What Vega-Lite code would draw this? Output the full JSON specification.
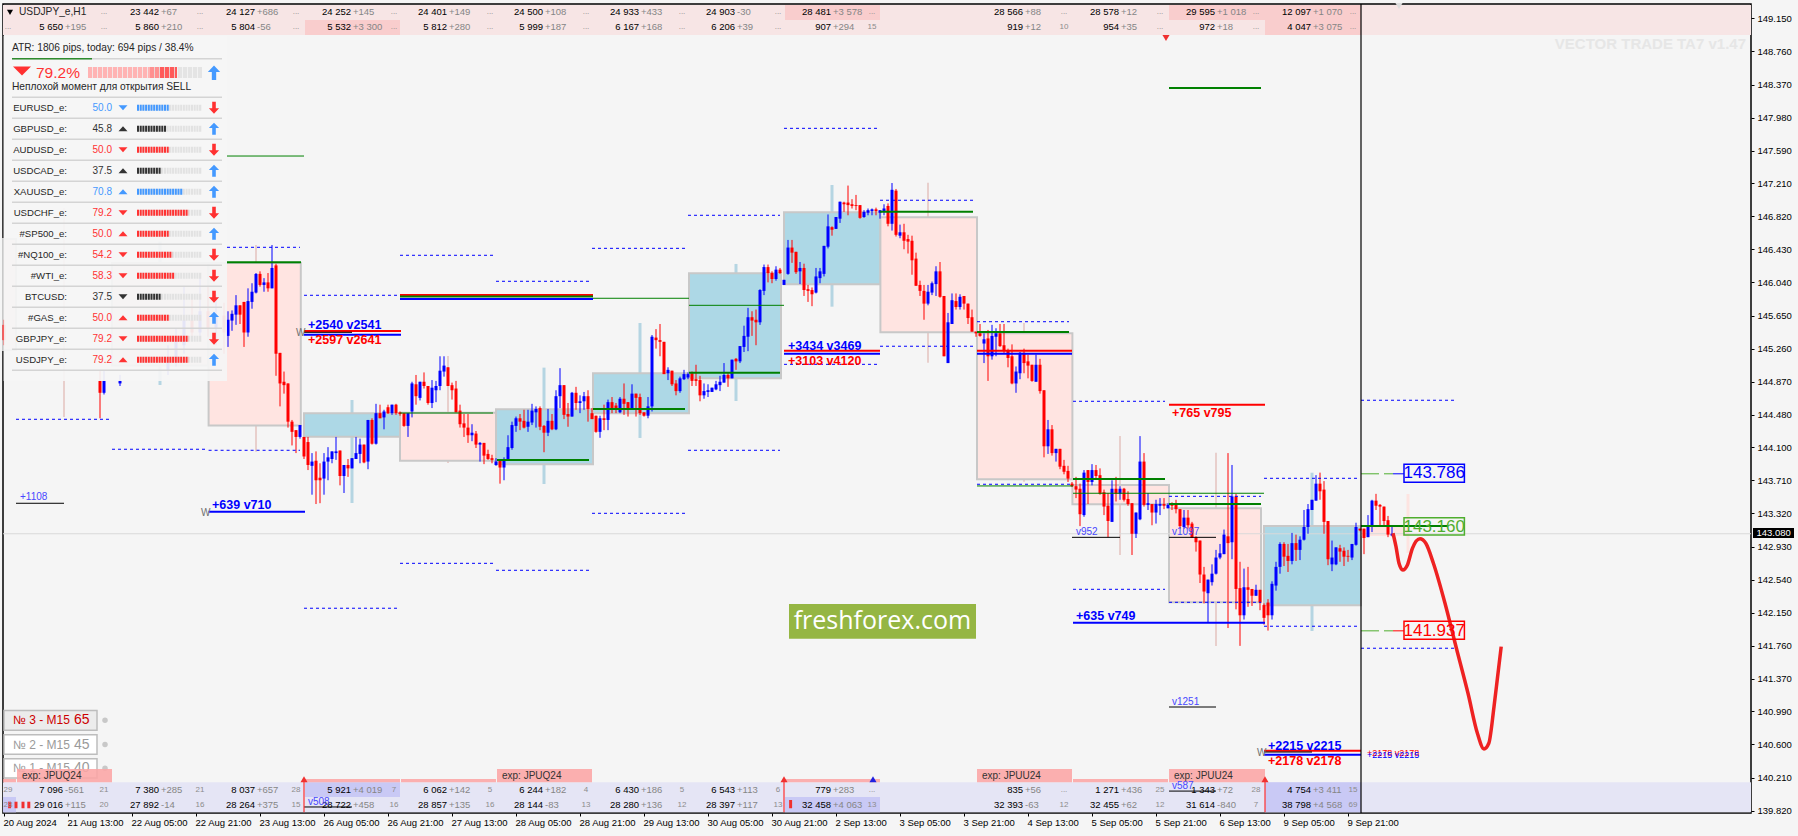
{
"$schema":"https://vega.github.io/schema/vega-lite/v6.json",
"width":1748,"height":809,
"autosize":{"type":"none"},
"padding":{"left":3,"top":4,"right":47,"bottom":23},
"background":"#f5f5f5",
"config":{"view":{"stroke":"#000000","strokeWidth":1.5,"fill":"#f5f5f5"},"font":"Liberation Sans","text":{"font":"Liberation Sans"},"axis":{"labelFont":"Liberation Sans"}},
"resolve":{"scale":{"color":"independent","stroke":"independent","size":"independent","strokeDash":"independent"},"legend":{"color":"independent"}},
"datasets":{
"buttons":[
{"bar":0,"end":23.25,"price":141.0,"price2":140.766,"kind":"active","label":"№ 3 - M15","value":"65","mid":140.883},
{"bar":0,"end":23.25,"price":140.714,"price2":140.483,"kind":"idle","label":"№ 2 - M15","value":"45","mid":140.598},
{"bar":0,"end":23.25,"price":140.432,"price2":140.204,"kind":"idle","label":"№ 1 - M15","value":"40","mid":140.318}],
"bands":[
{"bar":-0.25,"end":436.75,"price":149.306,"price2":148.953,"kind":"rose"},
{"bar":195.25,"end":219,"price":149.306,"price2":149.13,"kind":"rosehi"},
{"bar":291.25,"end":315.25,"price":149.306,"price2":149.13,"kind":"rosehi"},
{"bar":315.25,"end":339.25,"price":149.306,"price2":148.953,"kind":"rosehi"},
{"bar":75.25,"end":99,"price":149.13,"price2":148.953,"kind":"rosehi"},
{"bar":-0.25,"end":436.75,"price":140.154,"price2":139.8,"kind":"lav"},
{"bar":75.25,"end":99,"price":140.154,"price2":139.98,"kind":"lavhi"},
{"bar":195.25,"end":219,"price":139.98,"price2":139.8,"kind":"lavhi"},
{"bar":315.25,"end":339.25,"price":140.154,"price2":139.8,"kind":"lavhi"},
{"bar":-0.25,"end":3,"price":139.98,"price2":139.8,"kind":"lavhi"},
{"bar":3.25,"end":27,"price":140.31,"price2":140.154,"kind":"salmon"},
{"bar":123.25,"end":147,"price":140.31,"price2":140.154,"kind":"salmon"},
{"bar":243.25,"end":267,"price":140.31,"price2":140.154,"kind":"salmon"},
{"bar":291.25,"end":315.25,"price":140.31,"price2":140.154,"kind":"salmon"},
{"bar":75.25,"end":99,"price":140.193,"price2":140.154,"kind":"salmon"},
{"bar":99.25,"end":123,"price":140.193,"price2":140.154,"kind":"salmon"},
{"bar":195.25,"end":219,"price":140.193,"price2":140.154,"kind":"salmon"},
{"bar":267.25,"end":291,"price":140.193,"price2":140.154,"kind":"salmon"},
{"bar":-0.25,"end":3,"price":140.193,"price2":140.154,"kind":"salmon"}],
"wicks":[
{"bar":15,"price":146.916,"price2":144.455,"kind":"pink"},
{"bar":39,"price":146.519,"price2":144.832,"kind":"blue"},
{"bar":63,"price":146.48,"price2":144.046,"kind":"pink"},
{"bar":87,"price":144.655,"price2":143.442,"kind":"blue"},
{"bar":111,"price":145.173,"price2":143.913,"kind":"pink"},
{"bar":135,"price":145.036,"price2":143.666,"kind":"blue"},
{"bar":159,"price":145.562,"price2":144.208,"kind":"blue"},
{"bar":183,"price":146.257,"price2":144.643,"kind":"blue"},
{"bar":207,"price":147.187,"price2":145.754,"kind":"blue"},
{"bar":231,"price":147.214,"price2":145.094,"kind":"pink"},
{"bar":255,"price":145.562,"price2":143.693,"kind":"pink"},
{"bar":279,"price":144.231,"price2":142.83,"kind":"pink"},
{"bar":303,"price":144.035,"price2":141.759,"kind":"pink"},
{"bar":327,"price":143.799,"price2":141.935,"kind":"blue"},
{"bar":351,"price":143.548,"price2":142.854,"kind":"pale"}],
"boxes":[
{"bar":-0.25,"end":3,"price":146.551,"price2":145.244,"kind":"pink"},
{"bar":27,"end":51,"price":146.268,"price2":145.061,"kind":"pink"},
{"bar":51.15,"end":74.2,"price":146.268,"price2":144.355,"kind":"pink"},
{"bar":75,"end":99,"price":144.499,"price2":144.223,"kind":"blue"},
{"bar":99,"end":123,"price":144.506,"price2":143.941,"kind":"pink"},
{"bar":123,"end":147.25,"price":144.546,"price2":143.898,"kind":"blue"},
{"bar":147.25,"end":171.25,"price":144.97,"price2":144.499,"kind":"blue"},
{"bar":171.25,"end":194.25,"price":146.147,"price2":144.911,"kind":"blue"},
{"bar":195,"end":219.1,"price":146.865,"price2":146.017,"kind":"blue"},
{"bar":219.1,"end":243.25,"price":146.806,"price2":145.452,"kind":"pink"},
{"bar":243.25,"end":267.1,"price":145.441,"price2":143.722,"kind":"pink"},
{"bar":267.1,"end":291.25,"price":143.654,"price2":143.427,"kind":"pink"},
{"bar":291.25,"end":314.25,"price":143.38,"price2":142.273,"kind":"pink"},
{"bar":315,"end":339.25,"price":143.172,"price2":142.238,"kind":"blue"}],
"vlines":[
{"bar":339.25,"price":149.318,"price2":139.792,"kind":"black"},
{"bar":75,"price":140.193,"price2":139.8,"kind":"red"},
{"bar":195,"price":140.193,"price2":139.8,"kind":"red"},
{"bar":315.25,"price":140.193,"price2":139.8,"kind":"red"}],
"candles":[
{"bar":0,"open":145.54,"high":145.6,"low":145.3,"close":145.36},
{"bar":24,"open":144.88,"high":145.0,"low":144.44,"close":144.74},
{"bar":25,"open":144.74,"high":145.0,"low":144.72,"close":144.88},
{"bar":29,"open":144.85,"high":144.95,"low":144.82,"close":144.88},
{"bar":41,"open":145.0,"high":145.3,"low":144.95,"close":145.15},
{"bar":43,"open":145.1,"high":145.5,"low":145.05,"close":145.35},
{"bar":45,"open":145.3,"high":146.0,"low":145.2,"close":145.6},
{"bar":47,"open":145.6,"high":145.9,"low":145.35,"close":145.45},
{"bar":49,"open":145.45,"high":146.1,"low":145.4,"close":145.7},
{"bar":51,"open":145.7,"high":146.0,"low":145.4,"close":145.5},
{"bar":53,"open":145.5,"high":145.9,"low":145.3,"close":145.65},
{"bar":55,"open":145.65,"high":145.8,"low":145.2,"close":145.45},
{"bar":56,"open":145.41,"high":145.7,"low":145.28,"close":145.6},
{"bar":57,"open":145.59,"high":145.71,"low":145.47,"close":145.67},
{"bar":58,"open":145.66,"high":145.89,"low":145.54,"close":145.77},
{"bar":59,"open":145.77,"high":145.77,"low":145.55,"close":145.66},
{"bar":60,"open":145.81,"high":145.81,"low":145.28,"close":145.45},
{"bar":61,"open":145.45,"high":145.97,"low":145.4,"close":145.82},
{"bar":62,"open":145.81,"high":146.03,"low":145.73,"close":145.93},
{"bar":63,"open":145.92,"high":146.15,"low":145.91,"close":146.14},
{"bar":64,"open":146.14,"high":146.17,"low":145.99,"close":146.01},
{"bar":65,"open":146.01,"high":146.09,"low":145.93,"close":146.04},
{"bar":66,"open":146.04,"high":146.15,"low":145.93,"close":145.97},
{"bar":67,"open":145.97,"high":146.48,"low":145.97,"close":146.21},
{"bar":68,"open":146.24,"high":146.26,"low":144.94,"close":145.2},
{"bar":69,"open":145.21,"high":145.21,"low":144.58,"close":144.85},
{"bar":70,"open":144.87,"high":144.99,"low":144.73,"close":144.83},
{"bar":71,"open":144.85,"high":144.85,"low":144.33,"close":144.4},
{"bar":72,"open":144.4,"high":144.42,"low":144.12,"close":144.28},
{"bar":73,"open":144.3,"high":144.3,"low":144.03,"close":144.22},
{"bar":74,"open":144.22,"high":144.36,"low":144.2,"close":144.36},
{"bar":75,"open":144.22,"high":144.22,"low":143.96,"close":143.99},
{"bar":76,"open":144.16,"high":144.22,"low":143.83,"close":143.89},
{"bar":77,"open":143.88,"high":144.03,"low":143.54,"close":143.93},
{"bar":78,"open":143.94,"high":144.05,"low":143.43,"close":143.71},
{"bar":79,"open":143.74,"high":143.91,"low":143.44,"close":143.71},
{"bar":80,"open":143.73,"high":144.03,"low":143.54,"close":143.93},
{"bar":81,"open":143.93,"high":144.1,"low":143.71,"close":143.98},
{"bar":82,"open":143.96,"high":144.05,"low":143.91,"close":144.05},
{"bar":83,"open":144.03,"high":144.22,"low":143.95,"close":144.05},
{"bar":84,"open":144.06,"high":144.06,"low":143.65,"close":143.76},
{"bar":85,"open":143.76,"high":143.89,"low":143.56,"close":143.89},
{"bar":86,"open":143.89,"high":143.96,"low":143.75,"close":143.85},
{"bar":87,"open":143.85,"high":143.97,"low":143.85,"close":143.97},
{"bar":88,"open":143.96,"high":144.22,"low":143.96,"close":144.03},
{"bar":89,"open":144.02,"high":144.2,"low":143.91,"close":144.13},
{"bar":90,"open":144.13,"high":144.13,"low":143.91,"close":143.92},
{"bar":91,"open":143.93,"high":144.42,"low":143.84,"close":144.42},
{"bar":92,"open":144.42,"high":144.44,"low":144.13,"close":144.14},
{"bar":93,"open":144.14,"high":144.61,"low":144.13,"close":144.5},
{"bar":94,"open":144.5,"high":144.6,"low":144.44,"close":144.44},
{"bar":95,"open":144.45,"high":144.54,"low":144.31,"close":144.52},
{"bar":96,"open":144.57,"high":144.6,"low":144.49,"close":144.5},
{"bar":97,"open":144.5,"high":144.6,"low":144.48,"close":144.6},
{"bar":98,"open":144.6,"high":144.61,"low":144.48,"close":144.5},
{"bar":99,"open":144.51,"high":144.52,"low":144.47,"close":144.49},
{"bar":100,"open":144.5,"high":144.5,"low":144.34,"close":144.35},
{"bar":101,"open":144.35,"high":144.5,"low":144.22,"close":144.5},
{"bar":102,"open":144.52,"high":144.87,"low":144.45,"close":144.85},
{"bar":103,"open":144.84,"high":144.95,"low":144.6,"close":144.7},
{"bar":104,"open":144.68,"high":144.87,"low":144.65,"close":144.87},
{"bar":105,"open":144.87,"high":144.98,"low":144.79,"close":144.82},
{"bar":106,"open":144.82,"high":144.82,"low":144.6,"close":144.62},
{"bar":107,"open":144.62,"high":144.89,"low":144.56,"close":144.8},
{"bar":108,"open":144.77,"high":144.88,"low":144.63,"close":144.82},
{"bar":109,"open":144.82,"high":145.17,"low":144.77,"close":145.0},
{"bar":110,"open":144.99,"high":145.17,"low":144.93,"close":145.06},
{"bar":111,"open":145.04,"high":145.04,"low":144.82,"close":144.82},
{"bar":112,"open":144.83,"high":144.86,"low":144.66,"close":144.77},
{"bar":113,"open":144.79,"high":144.88,"low":144.51,"close":144.51},
{"bar":114,"open":144.53,"high":144.6,"low":144.33,"close":144.37},
{"bar":115,"open":144.38,"high":144.49,"low":144.22,"close":144.33},
{"bar":116,"open":144.33,"high":144.49,"low":144.15,"close":144.24},
{"bar":117,"open":144.24,"high":144.37,"low":144.17,"close":144.27},
{"bar":118,"open":144.26,"high":144.29,"low":144.09,"close":144.13},
{"bar":119,"open":144.13,"high":144.16,"low":143.93,"close":144.15},
{"bar":120,"open":144.15,"high":144.15,"low":143.9,"close":144.0},
{"bar":121,"open":144.02,"high":144.07,"low":143.95,"close":143.96},
{"bar":122,"open":143.97,"high":144.01,"low":143.91,"close":143.95},
{"bar":123,"open":143.89,"high":143.97,"low":143.88,"close":143.93},
{"bar":124,"open":143.95,"high":143.95,"low":143.67,"close":143.86},
{"bar":125,"open":143.86,"high":143.98,"low":143.71,"close":143.95},
{"bar":126,"open":143.96,"high":144.24,"low":143.96,"close":144.1},
{"bar":127,"open":144.09,"high":144.4,"low":144.07,"close":144.36},
{"bar":128,"open":144.35,"high":144.46,"low":144.28,"close":144.44},
{"bar":129,"open":144.44,"high":144.49,"low":144.3,"close":144.4},
{"bar":130,"open":144.41,"high":144.54,"low":144.32,"close":144.33},
{"bar":131,"open":144.34,"high":144.54,"low":144.28,"close":144.4},
{"bar":132,"open":144.39,"high":144.61,"low":144.36,"close":144.53},
{"bar":133,"open":144.51,"high":144.58,"low":144.33,"close":144.55},
{"bar":134,"open":144.56,"high":144.58,"low":144.3,"close":144.34},
{"bar":135,"open":144.35,"high":144.36,"low":144.04,"close":144.27},
{"bar":136,"open":144.27,"high":144.55,"low":144.23,"close":144.41},
{"bar":137,"open":144.41,"high":144.49,"low":144.3,"close":144.31},
{"bar":138,"open":144.31,"high":144.77,"low":144.3,"close":144.7},
{"bar":139,"open":144.7,"high":145.03,"low":144.56,"close":144.83},
{"bar":140,"open":144.83,"high":144.83,"low":144.43,"close":144.48},
{"bar":141,"open":144.49,"high":144.62,"low":144.34,"close":144.46},
{"bar":142,"open":144.46,"high":144.75,"low":144.46,"close":144.74},
{"bar":143,"open":144.74,"high":144.81,"low":144.54,"close":144.62},
{"bar":144,"open":144.62,"high":144.71,"low":144.5,"close":144.64},
{"bar":145,"open":144.64,"high":144.75,"low":144.54,"close":144.7},
{"bar":146,"open":144.7,"high":144.77,"low":144.4,"close":144.55},
{"bar":147,"open":144.5,"high":144.56,"low":144.43,"close":144.43},
{"bar":148,"open":144.47,"high":144.47,"low":144.27,"close":144.28},
{"bar":149,"open":144.28,"high":144.47,"low":144.21,"close":144.44},
{"bar":150,"open":144.44,"high":144.6,"low":144.3,"close":144.42},
{"bar":151,"open":144.42,"high":144.66,"low":144.3,"close":144.63},
{"bar":152,"open":144.63,"high":144.69,"low":144.5,"close":144.56},
{"bar":153,"open":144.59,"high":144.62,"low":144.5,"close":144.56},
{"bar":154,"open":144.51,"high":144.69,"low":144.5,"close":144.67},
{"bar":155,"open":144.67,"high":144.85,"low":144.48,"close":144.61},
{"bar":156,"open":144.63,"high":144.63,"low":144.46,"close":144.56},
{"bar":157,"open":144.56,"high":144.84,"low":144.54,"close":144.73},
{"bar":158,"open":144.73,"high":144.73,"low":144.46,"close":144.68},
{"bar":159,"open":144.69,"high":144.73,"low":144.48,"close":144.5},
{"bar":160,"open":144.51,"high":144.51,"low":144.46,"close":144.47},
{"bar":161,"open":144.47,"high":144.69,"low":144.44,"close":144.58},
{"bar":162,"open":144.58,"high":145.42,"low":144.52,"close":145.4},
{"bar":163,"open":145.39,"high":145.49,"low":145.26,"close":145.36},
{"bar":164,"open":145.36,"high":145.55,"low":145.17,"close":145.34},
{"bar":165,"open":145.34,"high":145.34,"low":144.96,"close":144.96},
{"bar":166,"open":144.97,"high":145.04,"low":144.89,"close":145.01},
{"bar":167,"open":145.0,"high":145.0,"low":144.82,"close":144.84},
{"bar":168,"open":144.85,"high":144.89,"low":144.71,"close":144.76},
{"bar":169,"open":144.76,"high":144.93,"low":144.74,"close":144.91},
{"bar":170,"open":144.9,"high":145.01,"low":144.89,"close":144.96},
{"bar":171,"open":144.92,"high":144.98,"low":144.9,"close":144.96},
{"bar":172,"open":144.97,"high":144.99,"low":144.82,"close":144.88},
{"bar":173,"open":144.9,"high":145.07,"low":144.82,"close":144.88},
{"bar":174,"open":144.89,"high":144.94,"low":144.64,"close":144.71},
{"bar":175,"open":144.71,"high":144.85,"low":144.67,"close":144.76},
{"bar":176,"open":144.75,"high":144.84,"low":144.69,"close":144.77},
{"bar":177,"open":144.75,"high":144.8,"low":144.75,"close":144.8},
{"bar":178,"open":144.78,"high":144.88,"low":144.77,"close":144.84},
{"bar":179,"open":144.83,"high":144.94,"low":144.76,"close":144.87},
{"bar":180,"open":144.86,"high":145.09,"low":144.86,"close":144.95},
{"bar":181,"open":144.95,"high":144.98,"low":144.81,"close":144.91},
{"bar":182,"open":144.91,"high":145.13,"low":144.91,"close":145.13},
{"bar":183,"open":145.14,"high":145.15,"low":145.01,"close":145.11},
{"bar":184,"open":145.11,"high":145.29,"low":145.09,"close":145.29},
{"bar":185,"open":145.28,"high":145.53,"low":145.22,"close":145.41},
{"bar":186,"open":145.4,"high":145.74,"low":145.23,"close":145.63},
{"bar":187,"open":145.63,"high":145.7,"low":145.41,"close":145.59},
{"bar":188,"open":145.6,"high":145.72,"low":145.3,"close":145.57},
{"bar":189,"open":145.57,"high":145.96,"low":145.54,"close":145.95},
{"bar":190,"open":145.94,"high":146.25,"low":145.89,"close":146.22},
{"bar":191,"open":146.22,"high":146.25,"low":146.04,"close":146.15},
{"bar":192,"open":146.15,"high":146.17,"low":146.03,"close":146.08},
{"bar":193,"open":146.08,"high":146.23,"low":146.06,"close":146.19},
{"bar":194,"open":146.19,"high":146.21,"low":146.14,"close":146.15},
{"bar":195,"open":146.01,"high":146.07,"low":146.01,"close":146.07},
{"bar":196,"open":146.14,"high":146.54,"low":146.13,"close":146.45},
{"bar":197,"open":146.45,"high":146.54,"low":146.27,"close":146.39},
{"bar":198,"open":146.4,"high":146.4,"low":146.14,"close":146.16},
{"bar":199,"open":146.17,"high":146.28,"low":146.02,"close":146.21},
{"bar":200,"open":146.21,"high":146.26,"low":145.88,"close":145.95},
{"bar":201,"open":145.96,"high":146.01,"low":145.81,"close":145.94},
{"bar":202,"open":145.95,"high":145.98,"low":145.76,"close":145.9},
{"bar":203,"open":145.92,"high":146.21,"low":145.91,"close":146.11},
{"bar":204,"open":146.09,"high":146.21,"low":146.03,"close":146.17},
{"bar":205,"open":146.14,"high":146.47,"low":146.11,"close":146.47},
{"bar":206,"open":146.46,"high":146.84,"low":146.44,"close":146.7},
{"bar":207,"open":146.69,"high":146.7,"low":146.59,"close":146.66},
{"bar":208,"open":146.67,"high":146.81,"low":146.67,"close":146.81},
{"bar":209,"open":146.79,"high":146.99,"low":146.74,"close":146.99},
{"bar":210,"open":146.98,"high":146.99,"low":146.87,"close":146.96},
{"bar":211,"open":146.98,"high":147.18,"low":146.83,"close":146.95},
{"bar":212,"open":146.96,"high":147.02,"low":146.91,"close":146.94},
{"bar":213,"open":146.95,"high":147.07,"low":146.89,"close":146.94},
{"bar":214,"open":146.95,"high":146.95,"low":146.79,"close":146.8},
{"bar":215,"open":146.81,"high":146.89,"low":146.8,"close":146.87},
{"bar":216,"open":146.86,"high":146.91,"low":146.83,"close":146.89},
{"bar":217,"open":146.88,"high":146.91,"low":146.83,"close":146.9},
{"bar":218,"open":146.9,"high":146.92,"low":146.83,"close":146.88},
{"bar":219,"open":146.86,"high":146.89,"low":146.79,"close":146.89},
{"bar":220,"open":146.87,"high":146.96,"low":146.83,"close":146.91},
{"bar":221,"open":146.94,"high":146.97,"low":146.7,"close":146.73},
{"bar":222,"open":146.73,"high":147.21,"low":146.65,"close":147.13},
{"bar":223,"open":147.12,"high":147.14,"low":146.58,"close":146.6},
{"bar":224,"open":146.59,"high":146.72,"low":146.56,"close":146.63},
{"bar":225,"open":146.63,"high":146.73,"low":146.43,"close":146.53},
{"bar":226,"open":146.55,"high":146.6,"low":146.38,"close":146.52},
{"bar":227,"open":146.53,"high":146.59,"low":146.13,"close":146.3},
{"bar":228,"open":146.32,"high":146.39,"low":146.0,"close":146.0},
{"bar":229,"open":146.01,"high":146.06,"low":145.88,"close":145.94},
{"bar":230,"open":145.94,"high":146.01,"low":145.6,"close":145.79},
{"bar":231,"open":145.79,"high":146.01,"low":145.77,"close":145.93},
{"bar":232,"open":145.92,"high":146.05,"low":145.89,"close":146.03},
{"bar":233,"open":146.02,"high":146.23,"low":145.88,"close":146.17},
{"bar":234,"open":146.17,"high":146.28,"low":145.86,"close":145.87},
{"bar":235,"open":145.88,"high":145.88,"low":145.17,"close":145.17},
{"bar":236,"open":145.09,"high":145.68,"low":145.09,"close":145.57},
{"bar":237,"open":145.55,"high":145.91,"low":145.55,"close":145.83},
{"bar":238,"open":145.82,"high":145.91,"low":145.72,"close":145.75},
{"bar":239,"open":145.75,"high":145.9,"low":145.72,"close":145.87},
{"bar":240,"open":145.88,"high":145.88,"low":145.72,"close":145.79},
{"bar":241,"open":145.79,"high":145.79,"low":145.55,"close":145.62},
{"bar":242,"open":145.63,"high":145.72,"low":145.46,"close":145.46},
{"bar":243,"open":145.46,"high":145.46,"low":145.4,"close":145.44},
{"bar":244,"open":145.44,"high":145.55,"low":145.4,"close":145.41},
{"bar":245,"open":145.32,"high":145.44,"low":145.09,"close":145.37},
{"bar":246,"open":145.38,"high":145.48,"low":144.88,"close":145.17},
{"bar":247,"open":145.17,"high":145.54,"low":145.13,"close":145.41},
{"bar":248,"open":145.4,"high":145.5,"low":145.17,"close":145.44},
{"bar":249,"open":145.44,"high":145.55,"low":145.28,"close":145.29},
{"bar":250,"open":145.3,"high":145.55,"low":145.21,"close":145.24},
{"bar":251,"open":145.24,"high":145.26,"low":145.04,"close":145.15},
{"bar":252,"open":145.17,"high":145.31,"low":144.84,"close":144.85},
{"bar":253,"open":144.85,"high":145.05,"low":144.74,"close":144.99},
{"bar":254,"open":144.97,"high":145.22,"low":144.9,"close":145.21},
{"bar":255,"open":145.21,"high":145.26,"low":144.97,"close":145.09},
{"bar":256,"open":145.11,"high":145.19,"low":144.91,"close":145.06},
{"bar":257,"open":145.07,"high":145.07,"low":144.87,"close":144.88},
{"bar":258,"open":144.87,"high":145.19,"low":144.87,"close":145.07},
{"bar":259,"open":145.07,"high":145.14,"low":144.73,"close":144.76},
{"bar":260,"open":144.77,"high":144.77,"low":143.98,"close":144.11},
{"bar":261,"open":144.11,"high":144.42,"low":144.02,"close":144.31},
{"bar":262,"open":144.31,"high":144.36,"low":144.0,"close":144.03},
{"bar":263,"open":144.03,"high":144.08,"low":143.93,"close":144.08},
{"bar":264,"open":144.08,"high":144.08,"low":143.84,"close":143.87},
{"bar":265,"open":143.88,"high":143.95,"low":143.78,"close":143.81},
{"bar":266,"open":143.82,"high":143.88,"low":143.69,"close":143.73},
{"bar":267,"open":143.67,"high":143.69,"low":143.63,"close":143.64},
{"bar":268,"open":143.64,"high":143.75,"low":143.5,"close":143.6},
{"bar":269,"open":143.61,"high":143.67,"low":143.17,"close":143.31},
{"bar":270,"open":143.3,"high":143.83,"low":143.28,"close":143.8},
{"bar":271,"open":143.83,"high":143.83,"low":143.43,"close":143.69},
{"bar":272,"open":143.69,"high":143.9,"low":143.65,"close":143.83},
{"bar":273,"open":143.83,"high":143.89,"low":143.73,"close":143.76},
{"bar":274,"open":143.77,"high":143.85,"low":143.54,"close":143.55},
{"bar":275,"open":143.57,"high":143.6,"low":143.3,"close":143.4},
{"bar":276,"open":143.41,"high":143.56,"low":143.04,"close":143.23},
{"bar":277,"open":143.22,"high":143.71,"low":143.22,"close":143.61},
{"bar":278,"open":143.61,"high":143.75,"low":143.46,"close":143.55},
{"bar":279,"open":143.55,"high":143.64,"low":143.48,"close":143.61},
{"bar":280,"open":143.61,"high":143.62,"low":143.46,"close":143.48},
{"bar":281,"open":143.49,"high":143.58,"low":143.41,"close":143.43},
{"bar":282,"open":143.44,"high":143.44,"low":142.83,"close":143.08},
{"bar":283,"open":143.08,"high":143.33,"low":143.03,"close":143.33},
{"bar":284,"open":143.25,"high":144.23,"low":143.24,"close":143.93},
{"bar":285,"open":143.93,"high":144.03,"low":143.4,"close":143.42},
{"bar":286,"open":143.42,"high":143.56,"low":143.36,"close":143.44},
{"bar":287,"open":143.43,"high":143.43,"low":143.18,"close":143.33},
{"bar":288,"open":143.33,"high":143.48,"low":143.2,"close":143.43},
{"bar":289,"open":143.41,"high":143.5,"low":143.3,"close":143.43},
{"bar":290,"open":143.43,"high":143.5,"low":143.37,"close":143.41},
{"bar":291,"open":143.38,"high":143.44,"low":143.38,"close":143.42},
{"bar":292,"open":143.42,"high":143.45,"low":143.36,"close":143.41},
{"bar":293,"open":143.42,"high":143.48,"low":143.32,"close":143.37},
{"bar":294,"open":143.37,"high":143.37,"low":143.14,"close":143.17},
{"bar":295,"open":143.16,"high":143.36,"low":143.14,"close":143.27},
{"bar":296,"open":143.27,"high":143.36,"low":143.14,"close":143.18},
{"bar":297,"open":143.2,"high":143.22,"low":143.03,"close":143.03},
{"bar":298,"open":143.04,"high":143.05,"low":142.87,"close":142.98},
{"bar":299,"open":143.0,"high":143.0,"low":142.5,"close":142.6},
{"bar":300,"open":142.6,"high":142.69,"low":142.26,"close":142.4},
{"bar":301,"open":142.38,"high":142.54,"low":142.03,"close":142.54},
{"bar":302,"open":142.51,"high":142.72,"low":142.47,"close":142.61},
{"bar":303,"open":142.61,"high":142.89,"low":142.6,"close":142.8},
{"bar":304,"open":142.8,"high":142.96,"low":142.78,"close":142.85},
{"bar":305,"open":142.84,"high":143.13,"low":142.84,"close":143.07},
{"bar":306,"open":143.05,"high":144.03,"low":141.97,"close":142.97},
{"bar":307,"open":142.98,"high":143.89,"low":142.78,"close":143.52},
{"bar":308,"open":143.52,"high":143.55,"low":142.19,"close":142.43},
{"bar":309,"open":142.44,"high":142.75,"low":141.76,"close":142.12},
{"bar":310,"open":142.12,"high":142.67,"low":142.07,"close":142.45},
{"bar":311,"open":142.45,"high":142.69,"low":142.22,"close":142.42},
{"bar":312,"open":142.43,"high":142.43,"low":142.23,"close":142.35},
{"bar":313,"open":142.35,"high":142.48,"low":142.35,"close":142.42},
{"bar":314,"open":142.42,"high":142.42,"low":142.18,"close":142.27},
{"bar":315,"open":142.24,"high":142.26,"low":142.01,"close":142.09},
{"bar":316,"open":142.27,"high":142.31,"low":141.94,"close":142.12},
{"bar":317,"open":142.12,"high":142.52,"low":142.07,"close":142.49},
{"bar":318,"open":142.47,"high":142.75,"low":142.41,"close":142.69},
{"bar":319,"open":142.69,"high":142.98,"low":142.61,"close":142.96},
{"bar":320,"open":142.96,"high":142.98,"low":142.7,"close":142.81},
{"bar":321,"open":142.82,"high":142.96,"low":142.63,"close":142.76},
{"bar":322,"open":142.76,"high":143.09,"low":142.72,"close":142.97},
{"bar":323,"open":142.97,"high":143.07,"low":142.76,"close":142.89},
{"bar":324,"open":142.89,"high":143.05,"low":142.77,"close":143.01},
{"bar":325,"open":143.01,"high":143.36,"low":143.0,"close":143.16},
{"bar":326,"open":143.16,"high":143.43,"low":143.08,"close":143.37},
{"bar":327,"open":143.36,"high":143.48,"low":143.36,"close":143.48},
{"bar":328,"open":143.47,"high":143.77,"low":143.47,"close":143.67},
{"bar":329,"open":143.67,"high":143.8,"low":143.48,"close":143.58},
{"bar":330,"open":143.6,"high":143.7,"low":143.08,"close":143.22},
{"bar":331,"open":143.23,"high":143.23,"low":142.71,"close":142.78},
{"bar":332,"open":142.72,"high":143.0,"low":142.64,"close":142.8},
{"bar":333,"open":142.72,"high":142.92,"low":142.71,"close":142.92},
{"bar":334,"open":142.91,"high":142.95,"low":142.75,"close":142.87},
{"bar":335,"open":142.88,"high":142.92,"low":142.7,"close":142.81},
{"bar":336,"open":142.82,"high":142.89,"low":142.75,"close":142.81},
{"bar":337,"open":142.8,"high":142.96,"low":142.77,"close":142.96},
{"bar":338,"open":142.95,"high":143.21,"low":142.94,"close":143.16},
{"bar":339,"open":143.14,"high":143.14,"low":143.11,"close":143.12},
{"bar":340,"open":143.14,"high":143.14,"low":142.84,"close":143.03},
{"bar":341,"open":143.04,"high":143.3,"low":143.04,"close":143.17},
{"bar":342,"open":143.16,"high":143.48,"low":143.1,"close":143.47},
{"bar":343,"open":143.47,"high":143.55,"low":143.36,"close":143.41},
{"bar":344,"open":143.42,"high":143.43,"low":143.18,"close":143.4},
{"bar":345,"open":143.4,"high":143.4,"low":143.18,"close":143.23},
{"bar":346,"open":143.24,"high":143.29,"low":143.04,"close":143.07},
{"bar":347,"open":143.06,"high":143.16,"low":143.05,"close":143.08}],
"levels":[
{"bar":55.75,"end":75,"price":147.528,"kind":"thin"},
{"bar":147.25,"end":171.25,"price":145.853,"kind":"thin"},
{"bar":171.25,"end":195,"price":145.77,"kind":"thin"},
{"bar":243.25,"end":267.25,"price":143.643,"kind":"thin"},
{"bar":267.25,"end":291.25,"price":143.557,"kind":"thin"},
{"bar":291.25,"end":315,"price":143.557,"kind":"thin"},
{"bar":99,"end":122.25,"price":144.502,"kind":"thin"},
{"bar":55.75,"end":74.25,"price":146.277,"kind":"thick"},
{"bar":123.25,"end":146.25,"price":143.949,"kind":"thick"},
{"bar":147.25,"end":170.25,"price":144.549,"kind":"thick"},
{"bar":171.25,"end":194,"price":144.977,"kind":"thick"},
{"bar":219,"end":242.25,"price":146.872,"kind":"thick"},
{"bar":243.25,"end":266.25,"price":145.456,"kind":"thick"},
{"bar":291.25,"end":314.25,"price":148.329,"kind":"thick"},
{"bar":267.25,"end":290.25,"price":143.725,"kind":"thick"},
{"bar":291.25,"end":314.25,"price":143.431,"kind":"thick"},
{"bar":339.25,"end":361,"price":143.172,"kind":"thick"},
{"bar":99,"end":147.25,"price":145.892,"kind":"redline"},
{"bar":99,"end":147.25,"price":145.874,"kind":"thick"},
{"bar":99,"end":147.25,"price":145.844,"kind":"blueline"},
{"bar":75,"end":99.25,"price":145.468,"kind":"redline"},
{"bar":75,"end":99.25,"price":145.424,"kind":"blueline"},
{"bar":75,"end":87,"price":145.452,"kind":"black"},
{"bar":195,"end":219,"price":145.236,"kind":"redline"},
{"bar":195,"end":219,"price":145.2,"kind":"blueline"},
{"bar":243.25,"end":267,"price":145.236,"kind":"redline"},
{"bar":243.25,"end":267,"price":145.2,"kind":"blueline"},
{"bar":51.15,"end":75.25,"price":143.34,"kind":"blueline"},
{"bar":267.25,"end":315.25,"price":142.033,"kind":"blueline"},
{"bar":291.25,"end":315.25,"price":144.6,"kind":"redline"},
{"bar":315,"end":339.25,"price":140.526,"kind":"redline"},
{"bar":315,"end":339.25,"price":140.479,"kind":"blueline"},
{"bar":315,"end":327,"price":140.51,"kind":"black"},
{"bar":3,"end":15,"price":143.439,"kind":"black"},
{"bar":267,"end":279,"price":143.038,"kind":"black"},
{"bar":291.25,"end":303,"price":143.038,"kind":"black"},
{"bar":291.25,"end":303,"price":141.04,"kind":"black"},
{"bar":75,"end":87,"price":139.863,"kind":"black"},
{"bar":291.25,"end":303,"price":140.05,"kind":"black"},
{"bar":55.75,"end":74,"price":146.453,"kind":"dash"},
{"bar":99,"end":122.25,"price":146.359,"kind":"dash"},
{"bar":123,"end":146.25,"price":146.053,"kind":"dash"},
{"bar":75,"end":98.5,"price":145.888,"kind":"dash"},
{"bar":147,"end":170.25,"price":146.441,"kind":"dash"},
{"bar":171,"end":194,"price":146.83,"kind":"dash"},
{"bar":195,"end":218.25,"price":147.854,"kind":"dash"},
{"bar":219,"end":242.25,"price":147.007,"kind":"dash"},
{"bar":243.25,"end":266.25,"price":145.577,"kind":"dash"},
{"bar":219,"end":242.25,"price":145.288,"kind":"dash"},
{"bar":195,"end":218.25,"price":145.075,"kind":"dash"},
{"bar":3,"end":26.25,"price":144.428,"kind":"dash"},
{"bar":27,"end":50.25,"price":144.075,"kind":"dash"},
{"bar":51.15,"end":74,"price":144.063,"kind":"dash"},
{"bar":147,"end":170.25,"price":143.321,"kind":"dash"},
{"bar":99,"end":122.25,"price":142.732,"kind":"dash"},
{"bar":123,"end":146.25,"price":142.65,"kind":"dash"},
{"bar":75,"end":98.25,"price":142.203,"kind":"dash"},
{"bar":171,"end":194,"price":144.063,"kind":"dash"},
{"bar":267.25,"end":290.25,"price":144.64,"kind":"dash"},
{"bar":243.25,"end":267,"price":143.663,"kind":"dash"},
{"bar":267.25,"end":290.25,"price":142.426,"kind":"dash"},
{"bar":291.25,"end":314.25,"price":142.273,"kind":"dash"},
{"bar":291.25,"end":314.25,"price":143.521,"kind":"dash"},
{"bar":315,"end":338.5,"price":143.733,"kind":"dash"},
{"bar":315,"end":338.5,"price":141.991,"kind":"dash"},
{"bar":339.25,"end":362.5,"price":144.652,"kind":"dash"},
{"bar":339.25,"end":362.5,"price":141.732,"kind":"dash"},
{"bar":339.25,"end":343.75,"price":143.786,"kind":"fgreen"},
{"bar":345,"end":347.25,"price":143.786,"kind":"fgreen"},
{"bar":347.25,"end":350,"price":143.786,"kind":"fblue"},
{"bar":339.25,"end":343.75,"price":141.937,"kind":"fgreen"},
{"bar":345,"end":347.25,"price":141.937,"kind":"fgreen"},
{"bar":347.25,"end":350,"price":141.937,"kind":"fred"}],
"forecast":[
{"bar":347.25,"price":143.086},{"bar":348,"price":142.928},{"bar":348.75,"price":142.733},{"bar":349.7,"price":142.654},{"bar":350.85,"price":142.713},{"bar":352.1,"price":142.909},{"bar":354,"price":143.022},{"bar":355.45,"price":142.968},{"bar":357.35,"price":142.733},{"bar":360.25,"price":142.262},{"bar":363.1,"price":141.732},{"bar":366,"price":141.202},{"bar":368.35,"price":140.731},{"bar":370,"price":140.546},{"bar":371.2,"price":140.613},{"bar":372.5,"price":141.044},{"bar":373.4,"price":141.397},{"bar":374.3,"price":141.751}],
"priceBoxes":[
{"bar":350,"end":365.1,"mid":357.55,"price":143.898,"price2":143.686,"at":143.79,"label":"143.786","tone":"blue"},
{"bar":350,"end":365.1,"mid":357.55,"price":143.27,"price2":143.066,"at":143.165,"label":"143.160","tone":"green"},
{"bar":350,"end":365.1,"mid":357.55,"price":142.05,"price2":141.838,"at":141.94,"label":"141.937","tone":"red"}],
"labels":[
{"bar":76,"price":145.538,"text":"+2540 v2541","tone":"blue","role":"bold"},
{"bar":76,"price":145.362,"text":"+2597 v2641","tone":"red","role":"bold"},
{"bar":196,"price":145.291,"text":"+3434 v3469","tone":"blue","role":"bold"},
{"bar":196,"price":145.114,"text":"+3103 v4120","tone":"red","role":"bold"},
{"bar":52,"price":143.419,"text":"+639 v710","tone":"blue","role":"bold"},
{"bar":268,"price":142.112,"text":"+635 v749","tone":"blue","role":"bold"},
{"bar":292,"price":144.502,"text":"+765 v795","tone":"red","role":"bold"},
{"bar":316,"price":140.581,"text":"+2215 v2215","tone":"blue","role":"bold"},
{"bar":316,"price":140.405,"text":"+2178 v2178","tone":"red","role":"bold"},
{"bar":4,"price":143.513,"text":"+1108","tone":"soft","role":"thin"},
{"bar":268,"price":143.105,"text":"v952","tone":"soft","role":"thin"},
{"bar":292,"price":143.105,"text":"v1097","tone":"soft","role":"thin"},
{"bar":292,"price":141.103,"text":"v1251","tone":"soft","role":"thin"},
{"bar":292,"price":140.114,"text":"v587","tone":"soft","role":"thin"},
{"bar":76,"price":139.925,"text":"v508","tone":"soft","role":"thin"},
{"bar":73,"price":145.444,"text":"W","tone":"gray","role":"thin"},
{"bar":49.25,"price":143.33,"text":"W","tone":"gray","role":"thin"},
{"bar":313.25,"price":140.5,"text":"W","tone":"gray","role":"thin"},
{"bar":340.75,"price":140.502,"text":"+2178 v2178","tone":"red","role":"small"},
{"bar":340.75,"price":140.475,"text":"+2215 v2215","tone":"blue","role":"small"}],
"tabs":[
{"bar":4.5,"price":140.232,"text":"exp: JPUQ24"},
{"bar":124.5,"price":140.232,"text":"exp: JPUQ24"},
{"bar":244.5,"price":140.232,"text":"exp: JPUU24"},
{"bar":292.5,"price":140.232,"text":"exp: JPUU24"}],
"cells":[
{"bar":38.75,"price":149.22,"amount":"23 442","change":"+67"},
{"bar":62.75,"price":149.22,"amount":"24 127","change":"+686"},
{"bar":86.75,"price":149.22,"amount":"24 252","change":"+145"},
{"bar":110.75,"price":149.22,"amount":"24 401","change":"+149"},
{"bar":134.75,"price":149.22,"amount":"24 500","change":"+108"},
{"bar":158.75,"price":149.22,"amount":"24 933","change":"+433"},
{"bar":182.75,"price":149.22,"amount":"24 903","change":"-30"},
{"bar":206.75,"price":149.22,"amount":"28 481","change":"+3 578"},
{"bar":254.75,"price":149.22,"amount":"28 566","change":"+88"},
{"bar":278.75,"price":149.22,"amount":"28 578","change":"+12"},
{"bar":302.75,"price":149.22,"amount":"29 595","change":"+1 018"},
{"bar":326.75,"price":149.22,"amount":"12 097","change":"+1 070"},
{"bar":14.75,"price":149.044,"amount":"5 650","change":"+195"},
{"bar":38.75,"price":149.044,"amount":"5 860","change":"+210"},
{"bar":62.75,"price":149.044,"amount":"5 804","change":"-56"},
{"bar":86.75,"price":149.044,"amount":"5 532","change":"+3 300"},
{"bar":110.75,"price":149.044,"amount":"5 812","change":"+280"},
{"bar":134.75,"price":149.044,"amount":"5 999","change":"+187"},
{"bar":158.75,"price":149.044,"amount":"6 167","change":"+168"},
{"bar":182.75,"price":149.044,"amount":"6 206","change":"+39"},
{"bar":206.75,"price":149.044,"amount":"907","change":"+294"},
{"bar":254.75,"price":149.044,"amount":"919","change":"+12"},
{"bar":278.75,"price":149.044,"amount":"954","change":"+35"},
{"bar":302.75,"price":149.044,"amount":"972","change":"+18"},
{"bar":326.75,"price":149.044,"amount":"4 047","change":"+3 075"},
{"bar":14.75,"price":140.067,"amount":"7 096","change":"-561"},
{"bar":38.75,"price":140.067,"amount":"7 380","change":"+285"},
{"bar":62.75,"price":140.067,"amount":"8 037","change":"+657"},
{"bar":86.75,"price":140.067,"amount":"5 921","change":"+4 019"},
{"bar":110.75,"price":140.067,"amount":"6 062","change":"+142"},
{"bar":134.75,"price":140.067,"amount":"6 244","change":"+182"},
{"bar":158.75,"price":140.067,"amount":"6 430","change":"+186"},
{"bar":182.75,"price":140.067,"amount":"6 543","change":"+113"},
{"bar":206.75,"price":140.067,"amount":"779","change":"+283"},
{"bar":254.75,"price":140.067,"amount":"835","change":"+56"},
{"bar":278.75,"price":140.067,"amount":"1 271","change":"+436"},
{"bar":302.75,"price":140.067,"amount":"1 343","change":"+72"},
{"bar":326.75,"price":140.067,"amount":"4 754","change":"+3 411"},
{"bar":14.75,"price":139.89,"amount":"29 016","change":"+115"},
{"bar":38.75,"price":139.89,"amount":"27 892","change":"-14"},
{"bar":62.75,"price":139.89,"amount":"28 264","change":"+375"},
{"bar":86.75,"price":139.89,"amount":"28 722","change":"+458"},
{"bar":110.75,"price":139.89,"amount":"28 857","change":"+135"},
{"bar":134.75,"price":139.89,"amount":"28 144","change":"-83"},
{"bar":158.75,"price":139.89,"amount":"28 280","change":"+136"},
{"bar":182.75,"price":139.89,"amount":"28 397","change":"+117"},
{"bar":206.75,"price":139.89,"amount":"32 458","change":"+4 063"},
{"bar":254.75,"price":139.89,"amount":"32 393","change":"-63"},
{"bar":278.75,"price":139.89,"amount":"32 455","change":"+62"},
{"bar":302.75,"price":139.89,"amount":"31 614","change":"-840"},
{"bar":326.75,"price":139.89,"amount":"38 798","change":"+4 568"}],
"counters":[
{"bar":25,"price":149.22,"text":"..."},{"bar":49,"price":149.22,"text":"..."},{"bar":73,"price":149.22,"text":"..."},{"bar":97.5,"price":149.22,"text":"..."},{"bar":121.5,"price":149.22,"text":"..."},{"bar":145.5,"price":149.22,"text":"..."},{"bar":169.5,"price":149.22,"text":"..."},{"bar":193.5,"price":149.22,"text":"..."},{"bar":217,"price":149.22,"text":"..."},{"bar":265,"price":149.22,"text":"..."},{"bar":289,"price":149.22,"text":"..."},{"bar":313,"price":149.22,"text":"..."},{"bar":337.25,"price":149.22,"text":"..."},
{"bar":1,"price":149.044,"text":"..."},{"bar":25,"price":149.044,"text":"..."},{"bar":49,"price":149.044,"text":"..."},{"bar":73,"price":149.044,"text":"..."},{"bar":97.5,"price":149.044,"text":"..."},{"bar":121.5,"price":149.044,"text":"..."},{"bar":145.5,"price":149.044,"text":"..."},{"bar":169.5,"price":149.044,"text":"..."},{"bar":193.5,"price":149.044,"text":"..."},{"bar":217,"price":149.044,"text":"15"},{"bar":265,"price":149.044,"text":"10"},{"bar":289,"price":149.044,"text":"..."},{"bar":313,"price":149.044,"text":"..."},{"bar":337.25,"price":149.044,"text":"..."},
{"bar":1,"price":140.067,"text":"29"},{"bar":25,"price":140.067,"text":"21"},{"bar":49,"price":140.067,"text":"21"},{"bar":73,"price":140.067,"text":"28"},{"bar":97.5,"price":140.067,"text":"7"},{"bar":121.5,"price":140.067,"text":"5"},{"bar":145.5,"price":140.067,"text":"4"},{"bar":169.5,"price":140.067,"text":"5"},{"bar":193.5,"price":140.067,"text":"6"},{"bar":217,"price":140.067,"text":"..."},{"bar":265,"price":140.067,"text":"..."},{"bar":289,"price":140.067,"text":"25"},{"bar":313,"price":140.067,"text":"28"},{"bar":337.25,"price":140.067,"text":"15"},
{"bar":1,"price":139.89,"text":"28"},{"bar":25,"price":139.89,"text":"20"},{"bar":49,"price":139.89,"text":"16"},{"bar":73,"price":139.89,"text":"15"},{"bar":97.5,"price":139.89,"text":"16"},{"bar":121.5,"price":139.89,"text":"16"},{"bar":145.5,"price":139.89,"text":"13"},{"bar":169.5,"price":139.89,"text":"12"},{"bar":193.5,"price":139.89,"text":"13"},{"bar":217,"price":139.89,"text":"13"},{"bar":265,"price":139.89,"text":"12"},{"bar":289,"price":139.89,"text":"12"},{"bar":313,"price":139.89,"text":"7"},{"bar":337.25,"price":139.89,"text":"69"}],
"redTicks":[
{"bar":1.4,"price":139.925,"price2":139.848},{"bar":3,"price":139.925,"price2":139.848},{"bar":4.75,"price":139.925,"price2":139.848},{"bar":6.2,"price":139.925,"price2":139.848},{"bar":196.65,"price":139.945,"price2":139.848}],
"panelRules":[
{"bar":2,"end":54.5,"price":148.674,"kind":"sep"},
{"bar":2,"end":22,"price":148.674,"kind":"atr"},
{"bar":2,"end":54.5,"price":148.219,"kind":"sep"},{"bar":2,"end":54.5,"price":147.972,"kind":"sep"},{"bar":2,"end":54.5,"price":147.725,"kind":"sep"},{"bar":2,"end":54.5,"price":147.478,"kind":"sep"},{"bar":2,"end":54.5,"price":147.23,"kind":"sep"},{"bar":2,"end":54.5,"price":146.983,"kind":"sep"},{"bar":2,"end":54.5,"price":146.736,"kind":"sep"},{"bar":2,"end":54.5,"price":146.489,"kind":"sep"},{"bar":2,"end":54.5,"price":146.241,"kind":"sep"},{"bar":2,"end":54.5,"price":145.994,"kind":"sep"},{"bar":2,"end":54.5,"price":145.747,"kind":"sep"},{"bar":2,"end":54.5,"price":145.5,"kind":"sep"},{"bar":2,"end":54.5,"price":145.252,"kind":"sep"},{"bar":2,"end":54.5,"price":145.005,"kind":"sep"}],
"gauge":[
{"bar":21,"end":49.5,"price":148.511,"kind":"rest"},
{"bar":21,"end":36.5,"price":148.511,"kind":"pale"},
{"bar":36.5,"end":39,"price":148.511,"kind":"mid"},
{"bar":39,"end":43.25,"price":148.511,"kind":"strong"}],
"watch":[
{"symbol":"EURUSD_e:","score":"50.0","price":148.097,"meter":41.375,"tone":"sky","trend":"down","signal":"down","nameBar":15.75,"scoreBar":27,"markBar":29.75,"meterFrom":33.25,"meterTo":49.5,"arrowBar":52.5},
{"symbol":"GBPUSD_e:","score":"45.8","price":147.85,"meter":40.69,"tone":"dim","trend":"up","signal":"up","nameBar":15.75,"scoreBar":27,"markBar":29.75,"meterFrom":33.25,"meterTo":49.5,"arrowBar":52.5},
{"symbol":"AUDUSD_e:","score":"50.0","price":147.602,"meter":41.375,"tone":"soft","trend":"down","signal":"down","nameBar":15.75,"scoreBar":27,"markBar":29.75,"meterFrom":33.25,"meterTo":49.5,"arrowBar":52.5},
{"symbol":"USDCAD_e:","score":"37.5","price":147.355,"meter":39.34,"tone":"dim","trend":"up","signal":"up","nameBar":15.75,"scoreBar":27,"markBar":29.75,"meterFrom":33.25,"meterTo":49.5,"arrowBar":52.5},
{"symbol":"XAUUSD_e:","score":"70.8","price":147.108,"meter":44.76,"tone":"sky","trend":"up","signal":"up","nameBar":15.75,"scoreBar":27,"markBar":29.75,"meterFrom":33.25,"meterTo":49.5,"arrowBar":52.5},
{"symbol":"USDCHF_e:","score":"79.2","price":146.861,"meter":46.12,"tone":"soft","trend":"down","signal":"down","nameBar":15.75,"scoreBar":27,"markBar":29.75,"meterFrom":33.25,"meterTo":49.5,"arrowBar":52.5},
{"symbol":"#SP500_e:","score":"50.0","price":146.613,"meter":41.375,"tone":"soft","trend":"up","signal":"up","nameBar":15.75,"scoreBar":27,"markBar":29.75,"meterFrom":33.25,"meterTo":49.5,"arrowBar":52.5},
{"symbol":"#NQ100_e:","score":"54.2","price":146.366,"meter":42.06,"tone":"soft","trend":"down","signal":"down","nameBar":15.75,"scoreBar":27,"markBar":29.75,"meterFrom":33.25,"meterTo":49.5,"arrowBar":52.5},
{"symbol":"#WTI_e:","score":"58.3","price":146.119,"meter":42.72,"tone":"soft","trend":"down","signal":"down","nameBar":15.75,"scoreBar":27,"markBar":29.75,"meterFrom":33.25,"meterTo":49.5,"arrowBar":52.5},
{"symbol":"BTCUSD:","score":"37.5","price":145.872,"meter":39.34,"tone":"dim","trend":"down","signal":"down","nameBar":15.75,"scoreBar":27,"markBar":29.75,"meterFrom":33.25,"meterTo":49.5,"arrowBar":52.5},
{"symbol":"#GAS_e:","score":"50.0","price":145.624,"meter":41.375,"tone":"soft","trend":"up","signal":"up","nameBar":15.75,"scoreBar":27,"markBar":29.75,"meterFrom":33.25,"meterTo":49.5,"arrowBar":52.5},
{"symbol":"GBPJPY_e:","score":"79.2","price":145.377,"meter":46.12,"tone":"soft","trend":"down","signal":"down","nameBar":15.75,"scoreBar":27,"markBar":29.75,"meterFrom":33.25,"meterTo":49.5,"arrowBar":52.5},
{"symbol":"USDJPY_e:","score":"79.2","price":145.13,"meter":46.12,"tone":"soft","trend":"up","signal":"up","nameBar":15.75,"scoreBar":27,"markBar":29.75,"meterFrom":33.25,"meterTo":49.5,"arrowBar":52.5}],
"panelText":[
{"bar":2,"price":148.803,"text":"ATR: 1806 pips, today: 694 pips / 38.4%"},
{"bar":2,"price":148.344,"text":"Неплохой момент для открытия SELL"},
{"bar":3.75,"price":149.22,"text":"USDJPY_e,H1"}]
},
"encoding":{
"x":{"field":"bar","type":"quantitative","title":null,"scale":{"domain":[-0.25,436.75],"nice":false,"zero":false},
"axis":{"values":[0,16,32,48,64,80,96,112,128,144,160,176,192,208,224,240,256,272,288,304,320,336],"grid":false,"domain":false,"tickColor":"#000000","tickSize":3,"labelColor":"#000000","labelFontSize":9.5,"labelAlign":"left","labelBaseline":"middle","labelPadding":6,"labelOffset":-1,"labelFlush":false,"labelBound":false,"labelOverlap":false,
"labelExpr":"['20 Aug 2024','21 Aug 13:00','22 Aug 05:00','22 Aug 21:00','23 Aug 13:00','26 Aug 05:00','26 Aug 21:00','27 Aug 13:00','28 Aug 05:00','28 Aug 21:00','29 Aug 13:00','30 Aug 05:00','30 Aug 21:00','2 Sep 13:00','3 Sep 05:00','3 Sep 21:00','4 Sep 13:00','5 Sep 05:00','5 Sep 21:00','6 Sep 13:00','9 Sep 05:00','9 Sep 21:00'][datum.value/16]"}},
"y":{"field":"price","type":"quantitative","title":null,"scale":{"domain":[139.792,149.318],"nice":false,"zero":false},
"axis":{"orient":"right","values":[149.15,148.76,148.37,147.98,147.59,147.21,146.82,146.43,146.04,145.65,145.26,144.87,144.48,144.1,143.71,143.32,142.93,142.54,142.15,141.76,141.37,140.99,140.6,140.21,139.82],"format":".3f","grid":false,"domain":false,"tickColor":"#000000","tickSize":3,"labelColor":"#000000","labelFontSize":9.5,"labelPadding":3,"labelOverlap":false,"labelFlush":false,"labelBound":false}}
},
"layer":[
{"data":{"name":"buttons"},"mark":{"type":"rect","stroke":"#bdbdbd","strokeWidth":1.5},"encoding":{"x2":{"field":"end"},"y2":{"field":"price2"},"color":{"field":"kind","type":"nominal","legend":null,"scale":{"domain":["active","idle"],"range":["#ececec","#ffffff"]}}}},
{"data":{"name":"buttons"},"mark":{"type":"text","align":"left","baseline":"middle","dx":9,"fontSize":12},"encoding":{"y":{"field":"mid","type":"quantitative","title":null,"scale":{"domain":[139.792,149.318],"nice":false,"zero":false}},"text":{"field":"label"},"color":{"field":"kind","type":"nominal","legend":null,"scale":{"domain":["active","idle"],"range":["#cc0000","#9a9a9a"]}}}},
{"data":{"name":"buttons"},"mark":{"type":"text","align":"left","baseline":"middle","dx":70,"fontSize":14},"encoding":{"y":{"field":"mid","type":"quantitative","title":null,"scale":{"domain":[139.792,149.318],"nice":false,"zero":false}},"text":{"field":"value"},"color":{"field":"kind","type":"nominal","legend":null,"scale":{"domain":["active","idle"],"range":["#cc0000","#9a9a9a"]}}}},
{"data":{"name":"buttons"},"mark":{"type":"point","filled":true,"size":30,"opacity":1,"color":"#c8c8c8"},"encoding":{"x":{"field":"end","type":"quantitative","title":null,"scale":{"domain":[-0.25,436.75],"nice":false,"zero":false}},"xOffset":{"value":8},"y":{"field":"mid","type":"quantitative","title":null,"scale":{"domain":[139.792,149.318],"nice":false,"zero":false}}}},
{"data":{"name":"bands"},"mark":{"type":"rect"},"encoding":{"x2":{"field":"end"},"y2":{"field":"price2"},"color":{"field":"kind","type":"nominal","legend":null,"scale":{"domain":["rose","rosehi","lav","lavhi","salmon"],"range":["#f7e5e5","#f9cdcd","#e5e5f5","#c9c9f5","rgba(252,165,165,0.88)"]}}}},
{"data":{"name":"wicks"},"mark":{"type":"rule"},"encoding":{"y2":{"field":"price2"},"size":{"field":"kind","type":"nominal","legend":null,"scale":{"type":"ordinal","domain":["pink","blue","pale"],"range":[2,3,3]}},"color":{"field":"kind","type":"nominal","legend":null,"scale":{"domain":["pink","blue","pale"],"range":["#e8cfcc","#b5d5e2","#fde4e1"]}}}},
{"data":{"name":"boxes"},"mark":{"type":"rect","stroke":"#c8c8c8","strokeWidth":2},"encoding":{"x2":{"field":"end"},"y2":{"field":"price2"},"color":{"field":"kind","type":"nominal","legend":null,"scale":{"domain":["pink","blue"],"range":["#ffe4e1","#add8e6"]}}}},
{"data":{"values":[{"bar":339.25,"end":351,"price":143.16,"price2":143.054}]},"mark":{"type":"rect","color":"#fde4e1"},"encoding":{"x2":{"field":"end"},"y2":{"field":"price2"}}},
{"data":{"values":[{"bar":-0.25,"end":436.75,"price":143.08}]},"mark":{"type":"rule","color":"#d9d9d9","strokeWidth":1},"encoding":{"x2":{"field":"end"}}},
{"data":{"name":"candles"},"mark":{"type":"rule","strokeWidth":1},"encoding":{"y":{"field":"high","type":"quantitative","title":null,"scale":{"domain":[139.792,149.318],"nice":false,"zero":false}},"y2":{"field":"low"},"color":{"condition":{"test":"datum.close>=datum.open","value":"#0000ff"},"value":"#ff0000"}}},
{"data":{"name":"candles"},"mark":{"type":"rule","strokeWidth":3},"encoding":{"y":{"field":"open","type":"quantitative","title":null,"scale":{"domain":[139.792,149.318],"nice":false,"zero":false}},"y2":{"field":"close"},"color":{"condition":{"test":"datum.close>=datum.open","value":"#0000ff"},"value":"#ff0000"}}},
{"data":{"name":"levels"},"mark":{"type":"rule"},"encoding":{"x2":{"field":"end"},
"color":{"field":"kind","type":"nominal","legend":null,"scale":{"domain":["thin","thick","dash","redline","blueline","black","fgreen","fblue","fred"],"range":["#008000","#008000","#0000ff","#ff0000","#0000ff","#000000","#4fae2f","#0000ff","#ff0000"]}},
"size":{"field":"kind","type":"nominal","legend":null,"scale":{"type":"ordinal","domain":["thin","thick","dash","redline","blueline","black","fgreen","fblue","fred"],"range":[1,2,1,2,2,1,1,1,1]}},
"strokeDash":{"field":"kind","type":"nominal","legend":null,"scale":{"domain":["thin","thick","dash","redline","blueline","black","fgreen","fblue","fred"],"range":[[1,0],[1,0],[3,3],[1,0],[1,0],[1,0],[1,0],[1,0],[1,0]]}}}},
{"data":{"name":"vlines"},"mark":{"type":"rule","strokeWidth":1.2},"encoding":{"y2":{"field":"price2"},"color":{"field":"kind","type":"nominal","legend":null,"scale":{"domain":["black","red"],"range":["#000000","#ff3030"]}}}},
{"data":{"name":"redTicks"},"mark":{"type":"rule","strokeWidth":3,"color":"#f03030"},"encoding":{"y2":{"field":"price2"}}},
{"data":{"values":[{"bar":290.5,"price":148.917,"tone":"red"},{"bar":348.75,"price":149.294,"tone":"pale"}]},"mark":{"type":"point","shape":"triangle-down","filled":true,"size":50,"opacity":1},"encoding":{"color":{"field":"tone","type":"nominal","legend":null,"scale":{"domain":["red","pale"],"range":["#f03030","#dddddd"]}}}},
{"data":{"values":[{"bar":75,"price":140.19,"tone":"red"},{"bar":195,"price":140.19,"tone":"red"},{"bar":217.25,"price":140.19,"tone":"blue"},{"bar":315.25,"price":140.19,"tone":"red"}]},"mark":{"type":"point","shape":"triangle-up","filled":true,"size":50,"opacity":1},"encoding":{"color":{"field":"tone","type":"nominal","legend":null,"scale":{"domain":["red","blue"],"range":["#f03030","#2020e0"]}}}},
{"data":{"name":"tabs"},"mark":{"type":"text","align":"left","baseline":"middle","fontSize":10,"color":"#333333"},"encoding":{"text":{"field":"text"}}},
{"data":{"name":"cells"},"mark":{"type":"text","align":"right","baseline":"middle","fontSize":9.5,"color":"#000000"},"encoding":{"text":{"field":"amount"}}},
{"data":{"name":"cells"},"mark":{"type":"text","align":"left","baseline":"middle","dx":2,"fontSize":9.5,"color":"#858585"},"encoding":{"text":{"field":"change"}}},
{"data":{"name":"counters"},"mark":{"type":"text","align":"center","baseline":"middle","fontSize":8,"color":"#8c8c8c"},"encoding":{"text":{"field":"text"}}},
{"data":{"name":"labels"},"transform":[{"filter":{"field":"role","equal":"bold"}}],"mark":{"type":"text","align":"left","baseline":"middle","fontSize":12.5,"fontWeight":"bold"},"encoding":{"text":{"field":"text"},"color":{"field":"tone","type":"nominal","legend":null,"scale":{"domain":["blue","red","soft","gray"],"range":["#0000ff","#ff0000","#4848ff","#707070"]}}}},
{"data":{"name":"labels"},"transform":[{"filter":{"field":"role","equal":"thin"}}],"mark":{"type":"text","align":"left","baseline":"middle","fontSize":10},"encoding":{"text":{"field":"text"},"color":{"field":"tone","type":"nominal","legend":null,"scale":{"domain":["blue","red","soft","gray"],"range":["#0000ff","#ff0000","#4848ff","#707070"]}}}},
{"data":{"name":"labels"},"transform":[{"filter":{"field":"role","equal":"small"}}],"mark":{"type":"text","align":"left","baseline":"middle","fontSize":9},"encoding":{"text":{"field":"text"},"color":{"field":"tone","type":"nominal","legend":null,"scale":{"domain":["blue","red","soft","gray"],"range":["#0000ff","#ff0000","#4848ff","#707070"]}}}},
{"data":{"values":[{"bar":196.25,"end":243,"price":142.253,"price2":141.845}]},"mark":{"type":"rect","color":"#95b643"},"encoding":{"x2":{"field":"end"},"y2":{"field":"price2"}}},
{"data":{"values":[{"bar":219.6,"price":142.05,"text":"freshforex.com"}]},"mark":{"type":"text","font":"Open Sans","fontSize":25,"align":"center","baseline":"middle","color":"#ffffff"},"encoding":{"text":{"field":"text"}}},
{"data":{"values":[{"bar":435.5,"price":148.843,"text":"VECTOR TRADE TA7 v1.47"}]},"mark":{"type":"text","fontSize":15,"fontWeight":"bold","align":"right","baseline":"middle","color":"#e6e6e6"},"encoding":{"text":{"field":"text"}}},
{"data":{"name":"forecast"},"mark":{"type":"line","color":"#ee2222","strokeWidth":3.5,"interpolate":"monotone"},"encoding":{"order":{"field":"bar"}}},
{"data":{"name":"priceBoxes"},"mark":{"type":"rect","fillOpacity":0,"strokeWidth":1.5},"encoding":{"x2":{"field":"end"},"y2":{"field":"price2"},"stroke":{"field":"tone","type":"nominal","legend":null,"scale":{"domain":["blue","green","red"],"range":["#0000ff","#4fae2f","#ff0000"]}}}},
{"data":{"name":"priceBoxes"},"mark":{"type":"text","fontSize":17,"align":"center","baseline":"middle"},"encoding":{"x":{"field":"mid","type":"quantitative","title":null,"scale":{"domain":[-0.25,436.75],"nice":false,"zero":false}},"y":{"field":"at","type":"quantitative","title":null,"scale":{"domain":[139.792,149.318],"nice":false,"zero":false}},"text":{"field":"label"},"color":{"field":"tone","type":"nominal","legend":null,"scale":{"domain":["blue","green","red"],"range":["#0000ff","#4fae2f","#ff0000"]}}}},
{"data":{"values":[{"bar":437.25,"end":447.5,"price":143.148,"price2":143.03}]},"mark":{"type":"rect","color":"#000000"},"encoding":{"x2":{"field":"end"},"y2":{"field":"price2"}}},
{"data":{"values":[{"bar":442.4,"price":143.086,"text":"143.080"}]},"mark":{"type":"text","fontSize":9.5,"align":"center","baseline":"middle","color":"#ffffff"},"encoding":{"text":{"field":"text"}}},
{"data":{"values":[{"bar":-0.1,"end":55.75,"price":148.941,"price2":144.879}]},"mark":{"type":"rect","color":"#f5f5f5","opacity":0.93},"encoding":{"x2":{"field":"end"},"y2":{"field":"price2"}}},
{"data":{"name":"panelRules"},"mark":{"type":"rule","strokeWidth":1.5},"encoding":{"x2":{"field":"end"},"color":{"field":"kind","type":"nominal","legend":null,"scale":{"domain":["sep","atr"],"range":["#d4d4d4","#2e8b2e"]}}}},
{"data":{"name":"panelText"},"mark":{"type":"text","align":"left","baseline":"middle","fontSize":10.2,"color":"#262626"},"encoding":{"text":{"field":"text"}}},
{"data":{"values":[{"bar":1.5,"price":149.22}]},"mark":{"type":"point","shape":"triangle-down","filled":true,"size":36,"opacity":1,"color":"#000000"}},
{"data":{"values":[{"bar":4.5,"price":148.529}]},"mark":{"type":"point","shape":"M-1,-0.5L1,-0.5L0,0.5Z","filled":true,"size":324,"opacity":1,"color":"#ff3030"}},
{"data":{"values":[{"bar":8,"price":148.509,"text":"79.2%"}]},"mark":{"type":"text","align":"left","baseline":"middle","fontSize":15.5,"color":"#ff3333"},"encoding":{"text":{"field":"text"}}},
{"data":{"name":"gauge"},"mark":{"type":"rule","strokeWidth":11,"strokeDash":[4.2,0.8]},"encoding":{"x2":{"field":"end"},"color":{"field":"kind","type":"nominal","legend":null,"scale":{"domain":["rest","pale","mid","strong"],"range":["#e4e4e4","#ffb3b3","#ff9090","#ff5a5a"]}}}},
{"data":{"values":[{"bar":52.5,"price":148.509}]},"mark":{"type":"point","shape":"M0,-1L0.85,-0.1L0.3,-0.1L0.3,1L-0.3,1L-0.3,-0.1L-0.85,-0.1Z","filled":true,"size":210,"opacity":1,"color":"#4499ff"}},
{"data":{"name":"watch"},"mark":{"type":"text","align":"right","baseline":"middle","fontSize":9.6,"color":"#262626"},"encoding":{"x":{"field":"nameBar","type":"quantitative","title":null,"scale":{"domain":[-0.25,436.75],"nice":false,"zero":false}},"text":{"field":"symbol"}}},
{"data":{"name":"watch"},"mark":{"type":"text","align":"right","baseline":"middle","fontSize":10},"encoding":{"x":{"field":"scoreBar","type":"quantitative","title":null,"scale":{"domain":[-0.25,436.75],"nice":false,"zero":false}},"text":{"field":"score"},"color":{"field":"tone","type":"nominal","legend":null,"scale":{"domain":["sky","dim","soft"],"range":["#4499ff","#333333","#ff3333"]}}}},
{"data":{"name":"watch"},"mark":{"type":"rule","strokeWidth":6,"strokeDash":[2,0.7],"color":"#e2e2e2"},"encoding":{"x":{"field":"meterFrom","type":"quantitative","title":null,"scale":{"domain":[-0.25,436.75],"nice":false,"zero":false}},"x2":{"field":"meterTo"}}},
{"data":{"name":"watch"},"mark":{"type":"rule","strokeWidth":6,"strokeDash":[2,0.7]},"encoding":{"x":{"field":"meterFrom","type":"quantitative","title":null,"scale":{"domain":[-0.25,436.75],"nice":false,"zero":false}},"x2":{"field":"meter"},"color":{"field":"tone","type":"nominal","legend":null,"scale":{"domain":["sky","dim","soft"],"range":["#4499ff","#333333","#ff3333"]}}}},
{"data":{"name":"watch"},"transform":[{"filter":{"field":"trend","equal":"up"}}],"mark":{"type":"point","shape":"M-1,0.55L1,0.55L0,-0.55Z","filled":true,"size":81,"opacity":1},"encoding":{"x":{"field":"markBar","type":"quantitative","title":null,"scale":{"domain":[-0.25,436.75],"nice":false,"zero":false}},"color":{"field":"tone","type":"nominal","legend":null,"scale":{"domain":["sky","dim","soft"],"range":["#4499ff","#333333","#ff3333"]}}}},
{"data":{"name":"watch"},"transform":[{"filter":{"field":"trend","equal":"down"}}],"mark":{"type":"point","shape":"M-1,-0.55L1,-0.55L0,0.55Z","filled":true,"size":81,"opacity":1},"encoding":{"x":{"field":"markBar","type":"quantitative","title":null,"scale":{"domain":[-0.25,436.75],"nice":false,"zero":false}},"color":{"field":"tone","type":"nominal","legend":null,"scale":{"domain":["sky","dim","soft"],"range":["#4499ff","#333333","#ff3333"]}}}},
{"data":{"name":"watch"},"transform":[{"filter":{"field":"signal","equal":"up"}}],"mark":{"type":"point","shape":"M0,-1L0.85,-0.1L0.3,-0.1L0.3,1L-0.3,1L-0.3,-0.1L-0.85,-0.1Z","filled":true,"size":144,"opacity":1,"color":"#4499ff"},"encoding":{"x":{"field":"arrowBar","type":"quantitative","title":null,"scale":{"domain":[-0.25,436.75],"nice":false,"zero":false}}}},
{"data":{"name":"watch"},"transform":[{"filter":{"field":"signal","equal":"down"}}],"mark":{"type":"point","shape":"M0,1L0.85,0.1L0.3,0.1L0.3,-1L-0.3,-1L-0.3,0.1L-0.85,0.1Z","filled":true,"size":144,"opacity":1,"color":"#ff3030"},"encoding":{"x":{"field":"arrowBar","type":"quantitative","title":null,"scale":{"domain":[-0.25,436.75],"nice":false,"zero":false}}}}
]
}
